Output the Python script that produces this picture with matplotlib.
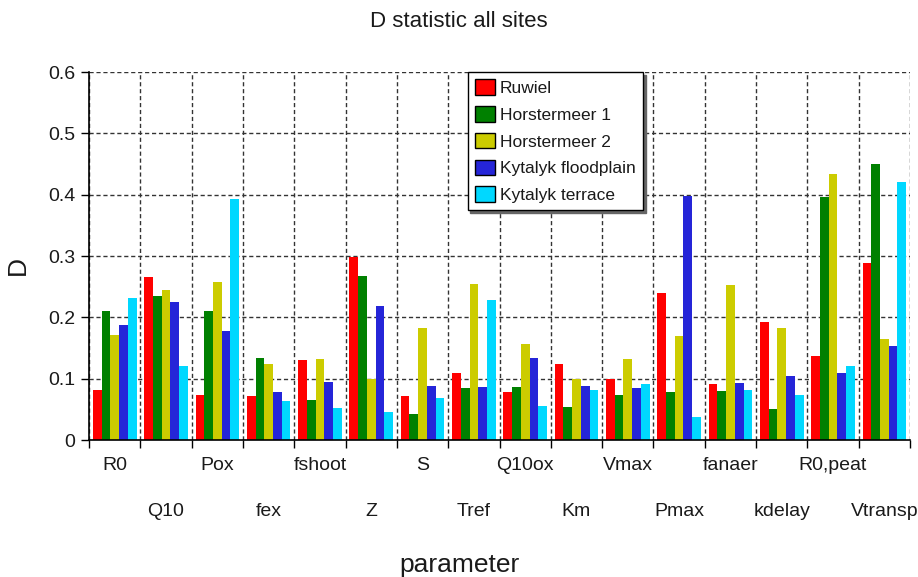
import numpy as np
import matplotlib
matplotlib.use("Agg")
import matplotlib.pyplot as plt

plt.rcParams["font.family"] = ["Liberation Sans", "DejaVu Sans"]
plt.rcParams["text.color"] = "#1a1a1a"
plt.rcParams["xtick.labelcolor"] = "#1a1a1a"
plt.rcParams["ytick.labelcolor"] = "#1a1a1a"

# ---------------------------------------------------------------------------
# data
# ---------------------------------------------------------------------------
params = ["R0", "Q10", "Pox", "fex", "fshoot", "Z", "S", "Tref",
          "Q10ox", "Km", "Vmax", "Pmax", "fanaer", "kdelay", "R0,peat", "Vtransp"]
sites = ["Ruwiel", "Horstermeer 1", "Horstermeer 2",
         "Kytalyk floodplain", "Kytalyk terrace"]

ruwiel   = [0.082, 0.265, 0.073, 0.072, 0.130, 0.299, 0.071, 0.109,
            0.078, 0.124, 0.100, 0.240, 0.091, 0.193, 0.137, 0.288]
horst1   = [0.210, 0.235, 0.210, 0.134, 0.065, 0.267, 0.043, 0.084,
            0.086, 0.054, 0.073, 0.078, 0.080, 0.050, 0.396, 0.450]
horst2   = [0.172, 0.244, 0.258, 0.124, 0.132, 0.100, 0.183, 0.254,
            0.156, 0.100, 0.132, 0.169, 0.252, 0.183, 0.434, 0.164]
kyt_flood = [0.187, 0.225, 0.178, 0.078, 0.094, 0.219, 0.088, 0.086,
             0.134, 0.088, 0.084, 0.398, 0.093, 0.105, 0.109, 0.154]
kyt_terr = [0.231, 0.120, 0.393, 0.063, 0.053, 0.046, 0.069, 0.229,
            0.056, 0.082, 0.091, 0.037, 0.082, 0.073, 0.120, 0.421]

series = [ruwiel, horst1, horst2, kyt_flood, kyt_terr]
colors = ["#ff0000", "#008000", "#cccc00", "#2525d8", "#00d8ff"]

# ---------------------------------------------------------------------------
# plot
# ---------------------------------------------------------------------------
fig = plt.figure(figsize=(9.18, 5.77), dpi=100)
ax = fig.add_axes([0.097, 0.2374, 0.8943, 0.6378])

n = len(params)
idx = np.arange(n)
bw = 0.17
start = 0.075
for k, (vals, c, lab) in enumerate(zip(series, colors, sites)):
    ax.bar(idx + start + bw * (k + 0.5), vals, width=bw, color=c,
           edgecolor="none", label=lab, zorder=2)

ax.set_xlim(0, n)
ax.set_ylim(0, 0.6)
ax.set_yticks(np.arange(0, 0.61, 0.1))
ax.set_yticklabels(["0", "0.1", "0.2", "0.3", "0.4", "0.5", "0.6"])

# category boundaries -> ticks + grid, centres -> labels (two staggered rows)
ax.set_xticks(np.arange(0, n + 1))
ax.set_xticklabels([])
ax.set_xticks(idx + 0.5, minor=True)
ax.set_xticklabels(params, minor=True)
ax.tick_params(axis="x", which="minor", length=0, labelsize=14)
for i, t in enumerate(ax.xaxis.get_minor_ticks()):
    t.set_pad(12.5 if i % 2 == 0 else 45)
ax.tick_params(axis="x", which="major", direction="out", length=6, width=1)
ax.tick_params(axis="y", direction="out", length=6, width=1, pad=4,
               labelsize=14)

ax.set_axisbelow(True)
ax.grid(True, which="major", color="#333333", linestyle=(0, (3, 2)), lw=1)
for s in ["top", "right"]:
    ax.spines[s].set_visible(False)
for s in ["left", "bottom"]:
    ax.spines[s].set_linewidth(1.2)

leg = ax.legend(loc="upper left", bbox_to_anchor=(0.461, 1.0), borderaxespad=0,
                fontsize=12.5, fancybox=False, edgecolor="black", framealpha=1,
                handlelength=1.15, handleheight=1.0, handletextpad=0.3,
                labelspacing=0.58, borderpad=0.42,
                shadow={"ox": 2, "oy": -2, "color": "#666666", "alpha": 1})
for h in leg.legend_handles:
    h.set_edgecolor("black")
    h.set_linewidth(1)

fig.text(0.5, 0.962, "D statistic all sites", ha="center", va="center", fontsize=16)
fig.text(0.5, 0.021, "parameter", ha="center", va="center", fontsize=19)
fig.text(0.02, 0.54, "D", ha="center", va="center", rotation=90, fontsize=19)

fig.savefig("out.png", dpi=100)
